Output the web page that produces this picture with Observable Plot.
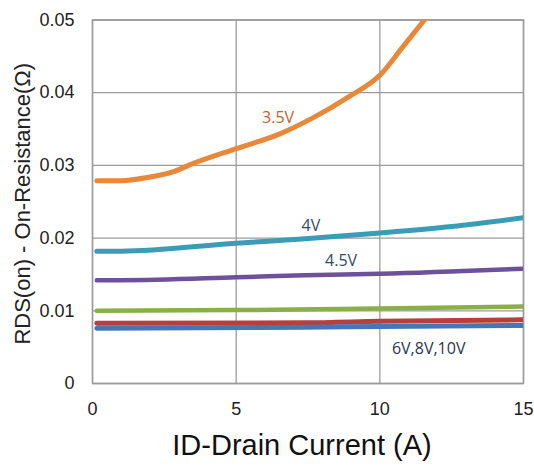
<!DOCTYPE html>
<html>
<head>
<meta charset="utf-8">
<script src="https://cdn.jsdelivr.net/npm/d3@7"></script>
<script src="https://cdn.jsdelivr.net/npm/@observablehq/plot@0.6"></script>
<style>
  html, body { margin: 0; padding: 0; background: #fff; }
</style>
</head>
<body>
<div id="chart"></div>
<script>
// Tick values
const xTicks = [0, 5, 10, 15];
const yTicks = [0, 0.01, 0.02, 0.03, 0.04, 0.05];

// Series: VGS = 3.5V
const I_35 = [0.15, 1.0, 2.0, 2.8, 3.4, 5.0, 6.5, 7.7, 8.9, 10.0, 10.8, 11.65];
const R_35 = [0.0279, 0.0279, 0.0284, 0.0291, 0.0301, 0.0323, 0.0343, 0.0366, 0.0394, 0.0424, 0.0463, 0.0505];
// VGS = 4V
const I_4 = [0.15, 1.0, 5.0, 7.4, 10.0, 12.5, 15.0];
const R_4 = [0.0182, 0.0182, 0.0193, 0.0199, 0.0207, 0.0216, 0.0228];
// VGS = 4.5V
const I_45 = [0.15, 1.0, 5.0, 7.4, 10.0, 15.0];
const R_45 = [0.0142, 0.0142, 0.0146, 0.0149, 0.0151, 0.0158];
// green
const I_g = [0.15, 5.0, 10.0, 15.0];
const R_g = [0.0100, 0.0101, 0.0103, 0.0106];
// red
const I_r = [0.15, 7.4, 10.0, 15.0];
const R_r = [0.0083, 0.00835, 0.00857, 0.00876];
// blue
const I_b = [0.15, 7.4, 10.0, 15.0];
const R_b = [0.0076, 0.00775, 0.00784, 0.00798];

// Curve labels
const labelText = ["3.5V", "4V", "4.5V", "6V,8V,10V"];
const labelI = [6.46, 7.6, 8.65, 11.7];
const labelR = [0.0366, 0.0217, 0.0169, 0.0048];
const labelColor = ["#c0652a", "#2f4b6e", "#2f4b6e", "#2a3550"];

const series = [
  {I: I_35, R: R_35, color: "#e8883a", w: 5},
  {I: I_4, R: R_4, color: "#3a9db6", w: 5},
  {I: I_45, R: R_45, color: "#6f509a", w: 4.5},
  {I: I_g, R: R_g, color: "#8aaf48", w: 4.5},
  {I: I_r, R: R_r, color: "#b5403c", w: 5},
  {I: I_b, R: R_b, color: "#4676b6", w: 5}
];

const gridStyle = {stroke: "#9b9b9b", strokeOpacity: 1, strokeWidth: 1.3};

const chart = Plot.plot({
  width: 534,
  height: 467,
  marginLeft: 92,
  marginRight: 11,
  marginTop: 19.5,
  marginBottom: 84,
  style: {fontFamily: "'Liberation Sans', Arial, sans-serif", background: "#fff"},
  x: {domain: [0, 15]},
  y: {domain: [0, 0.05]},
  marks: [
    Plot.gridX(xTicks, gridStyle),
    Plot.gridY(yTicks, gridStyle),
    Plot.frame({stroke: "#9b9b9b", strokeWidth: 1.5}),
    Plot.axisX(xTicks, {tickSize: 0, tickPadding: 19, fontSize: 18, label: null, color: "#222", tickFormat: d => String(d)}),
    Plot.axisY(yTicks, {tickSize: 0, tickPadding: 18, fontSize: 18, label: null, color: "#222", tickFormat: d => d === 0 ? "0" : d.toFixed(2)}),
    ...series.map(s => Plot.line(s.R, {
      x: s.I, y: s.R, stroke: s.color, strokeWidth: s.w,
      curve: "monotone-x", clip: true, strokeLinecap: "round"
    })),
    Plot.text(labelText, {
      x: labelI, y: labelR, text: d => d, fill: labelColor,
      fontSize: 16, fontFamily: "'Open Sans', sans-serif"
    }),
    Plot.text(["ID-Drain Current (A)"], {frameAnchor: "bottom", lineAnchor: "middle", dy: 62, dx: -6, fontSize: 29, fill: "#111"}),
    Plot.text(["RDS(on) - On-Resistance(Ω)"], {frameAnchor: "left", textAnchor: "middle", lineAnchor: "middle", rotate: -90, dx: -70, dy: 2, fontSize: 22, fill: "#222"})
  ]
});
document.getElementById("chart").appendChild(chart);
</script>
</body>
</html>
